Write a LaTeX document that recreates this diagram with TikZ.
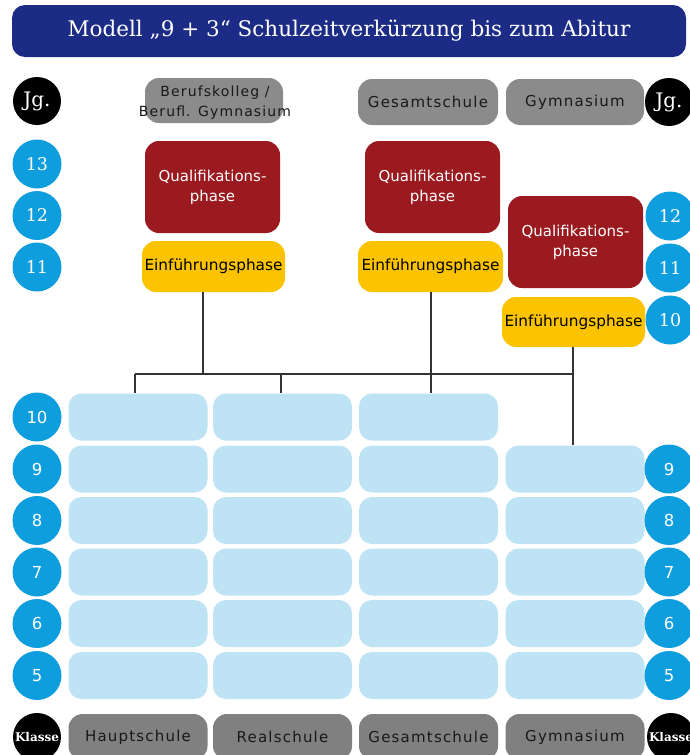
\documentclass[tikz,border=0pt]{standalone}
\usepackage{fontspec}
\setmainfont{DejaVu Sans}
\newfontfamily\slabfont{DejaVu Serif}
\newfontfamily\boxfont{DejaVu Sans}
\newfontfamily\grayfont[LetterSpace=8]{DejaVu Sans}
\usetikzlibrary{calc}
\definecolor{titleblue}{HTML}{1C2C86}
\definecolor{numblue}{HTML}{0E9DDD}
\definecolor{cellblue}{HTML}{BEE3F5}
\definecolor{qred}{HTML}{9A1A1F}
\definecolor{eyellow}{HTML}{FCC300}
\definecolor{boxgray}{HTML}{8B8B8B}
\definecolor{linegray}{HTML}{333333}
\tikzset{
  cell/.style={rectangle, rounded corners=13pt, fill=cellblue, minimum width=139pt, minimum height=47pt, inner sep=0pt},
  numc/.style={circle, fill=numblue, minimum size=49pt, inner sep=0pt, text=white},
  blackc/.style={circle, fill=black, minimum size=48pt, inner sep=0pt, text=white},
  graybox/.style={rectangle, rounded corners=14pt, fill=boxgray, minimum width=139pt, minimum height=46pt, inner sep=0pt, font=\grayfont\fontsize{15}{16}\selectfont, text=black!90},
  qbox/.style={rectangle, rounded corners=14pt, fill=qred, minimum width=135pt, minimum height=92pt, inner sep=0pt, text=white, align=center, font=\boxfont\fontsize{15}{20}\selectfont},
  ebox/.style={rectangle, rounded corners=14pt, fill=eyellow, minimum width=143pt, minimum height=51pt, inner sep=0pt, text=black, font=\boxfont\fontsize{15.3}{16}\selectfont},
  connector/.style={draw=linegray, line width=1.5pt},
  serifnum/.style={font=\slabfont\fontsize{17.5}{17.5}\selectfont},
  sansnum/.style={font=\boxfont\fontsize{16.5}{16.5}\selectfont},
}
\begin{document}
\begin{tikzpicture}[x=1pt, y=-1pt]
\useasboundingbox (0,0) rectangle (690,755);
\fill[white] (0,0) rectangle (690,755);
% title
\node[rectangle, rounded corners=13pt, fill=titleblue, minimum width=674pt, minimum height=52pt, inner sep=0pt, text=white, font=\slabfont\fontsize{21.5}{22}\selectfont] (title) at (349,31) {Modell „9 + 3“ Schulzeitverkürzung bis zum Abitur};
% header circles
\node[blackc, font=\slabfont\fontsize{20}{20}\selectfont] (jgl) at (37,101) {Jg.};
\node[blackc, font=\slabfont\fontsize{20}{20}\selectfont] (jgr) at (669,102) {Jg.};
% top gray boxes
\node[graybox, minimum width=138pt, minimum height=45pt] (bk) at (214,100.5) {};
\node[font=\grayfont\fontsize{14}{20}\selectfont, align=center, text=black!90] (bktext) at (215,103) {Berufskolleg /\\Berufl. Gymnasium};
\node[graybox, minimum width=140pt] (gst) at (428,102) {Gesamtschule};
\node[graybox, minimum width=138pt] (gyt) at (575,102) {Gymnasium};
% upper number circles
\node[numc, serifnum] (l13) at (37,164) {13};
\node[numc, serifnum] (l12) at (37,215.5) {12};
\node[numc, serifnum] (l11) at (37,267) {11};
\node[numc, serifnum] (r12) at (670,216) {12};
\node[numc, serifnum] (r11) at (670,268) {11};
\node[numc, serifnum] (r10) at (670,320) {10};
% phase boxes
\node[qbox] (q1) at (212.5,187) {Qualifikations-\\phase};
\node[qbox] (q2) at (432.5,187) {Qualifikations-\\phase};
\node[qbox] (q3) at (575.5,242) {Qualifikations-\\phase};
\node[ebox] (e1) at (213.5,266.5) {Einführungsphase};
\node[ebox, minimum width=145pt] (e2) at (430.5,266.5) {Einführungsphase};
\node[ebox, minimum height=50pt] (e3) at (573.5,322) {Einführungsphase};
% cells
\foreach \r/\y in {10/417, 9/469, 8/520.5, 7/572, 6/623.5, 5/675.5} {
  \node[cell] (c-1-\r) at (138,\y) {};
  \node[cell] (c-2-\r) at (282.5,\y) {};
  \node[cell] (c-3-\r) at (428.5,\y) {};
  \node[numc, sansnum] (ln-\r) at (37,\y) {\r};
}
\foreach \r/\y in {9/469, 8/520.5, 7/572, 6/623.5, 5/675.5} {
  \node[cell] (c-4-\r) at (575,\y) {};
  \node[numc, sansnum] (rn-\r) at (669,\y) {\r};
}
% bottom labels
\node[blackc, font=\slabfont\bfseries\fontsize{12}{12}\selectfont] (kl) at (37,737) {Klasse};
\node[blackc, font=\slabfont\bfseries\fontsize{12}{12}\selectfont] (kr) at (671,737) {Klasse};
\node[graybox, fill=boxgray!92!black] (hs) at (138,737) {Hauptschule};
\node[graybox, fill=boxgray!92!black] (rs) at (282.5,737) {Realschule};
\node[graybox, fill=boxgray!92!black] (gs) at (428.5,737) {Gesamtschule};
\node[graybox, fill=boxgray!92!black] (gy) at (575,737) {Gymnasium};
% connectors
\coordinate (bl) at (203,374);
\coordinate (b1) at (135,374);
\coordinate (b2) at (281,374);
\coordinate (b3) at (431,374);
\coordinate (b4) at (573,374);
\draw[connector] (e1.south -| bl) -- (bl);
\draw[connector] (e2.south -| b3) -- (b3) -- (c-3-10.north -| b3);
\draw[connector] (e3.south -| b4) -- (b4) -- (c-4-9.north -| b4);
\draw[connector] (b1) -- (b4);
\draw[connector] (b1) -- (c-1-10.north -| b1);
\draw[connector] (b2) -- (c-2-10.north -| b2);
\end{tikzpicture}
\end{document}
